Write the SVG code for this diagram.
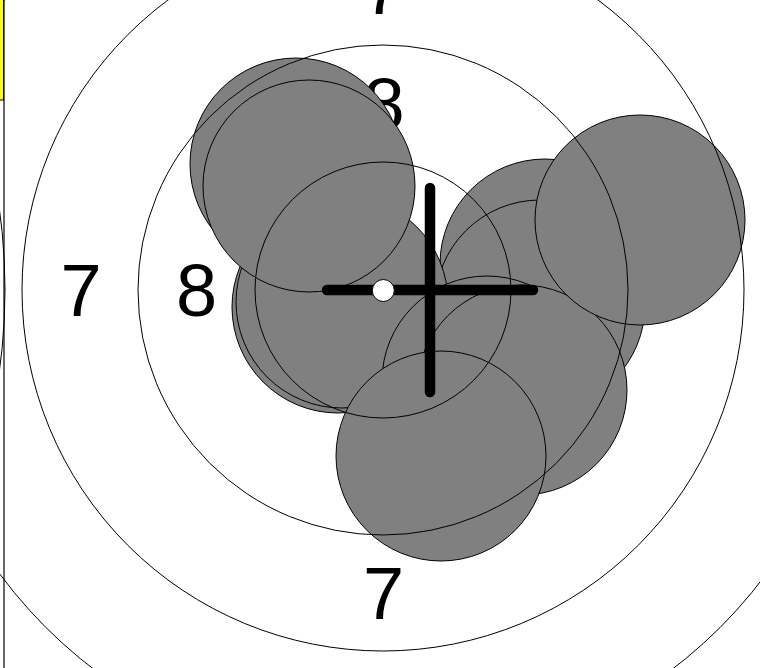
<svg xmlns="http://www.w3.org/2000/svg" width="760" height="668" viewBox="0 0 760 668">
<style>
.ring{fill:none;stroke:#000;stroke-width:1}
.hole{fill:#808080;stroke:#000;stroke-width:1}
.lbl{font-family:"Liberation Sans",Arial,sans-serif;font-size:74px;fill:#000;text-anchor:middle}
.cross{stroke:#000;stroke-width:10.5;stroke-linecap:round}
</style>
<rect width="760" height="668" fill="#fff"/>
<g id="labels">
<text class="lbl" x="383" y="14">7</text>
<text class="lbl" x="384" y="130">8</text>
<text class="lbl" x="81" y="316">7</text>
<text class="lbl" x="196.5" y="316">8</text>
<text class="lbl" x="383.5" y="619">7</text>
</g>
<g id="holes">
<circle id="hole5" class="hole" cx="545" cy="264" r="105"/>
<circle id="hole6" class="hole" cx="540" cy="305" r="105"/>
<circle id="hole3" class="hole" cx="338" cy="307" r="106"/>
<circle id="hole3b" class="hole" cx="342" cy="302" r="106"/>
<circle id="hole1" class="hole" cx="296" cy="164" r="106"/>
<circle id="hole2" class="hole" cx="309" cy="186" r="106"/>
<circle id="hole8" class="hole" cx="487" cy="381" r="105"/>
<circle id="hole7" class="hole" cx="522" cy="390" r="105"/>
<circle id="hole4" class="hole" cx="640" cy="220" r="105"/>
<circle id="hole9" class="hole" cx="441" cy="456" r="105"/>
</g>
<g id="rings">
<circle class="ring" cx="383" cy="290" r="128"/>
<circle class="ring" cx="383" cy="290" r="245"/>
<circle class="ring" cx="383" cy="290" r="361"/>
<circle class="ring" cx="383" cy="290" r="477"/>
<circle class="ring" cx="-590" cy="290" r="595"/>
</g>
<g id="crosshair">
<line class="cross" x1="430" y1="188" x2="430" y2="392"/>
<line class="cross" x1="327" y1="290" x2="533" y2="290"/>
</g>
<circle id="aim" cx="383.3" cy="290.5" r="11" fill="#fff" stroke="#000" stroke-width="1"/>
<g id="edge">
<rect x="-2" y="-2" width="5.5" height="102" fill="#ffff00" stroke="#000" stroke-width="1"/>
<line x1="4" y1="0" x2="4" y2="668" stroke="#000" stroke-width="1.2"/>
</g>
</svg>
